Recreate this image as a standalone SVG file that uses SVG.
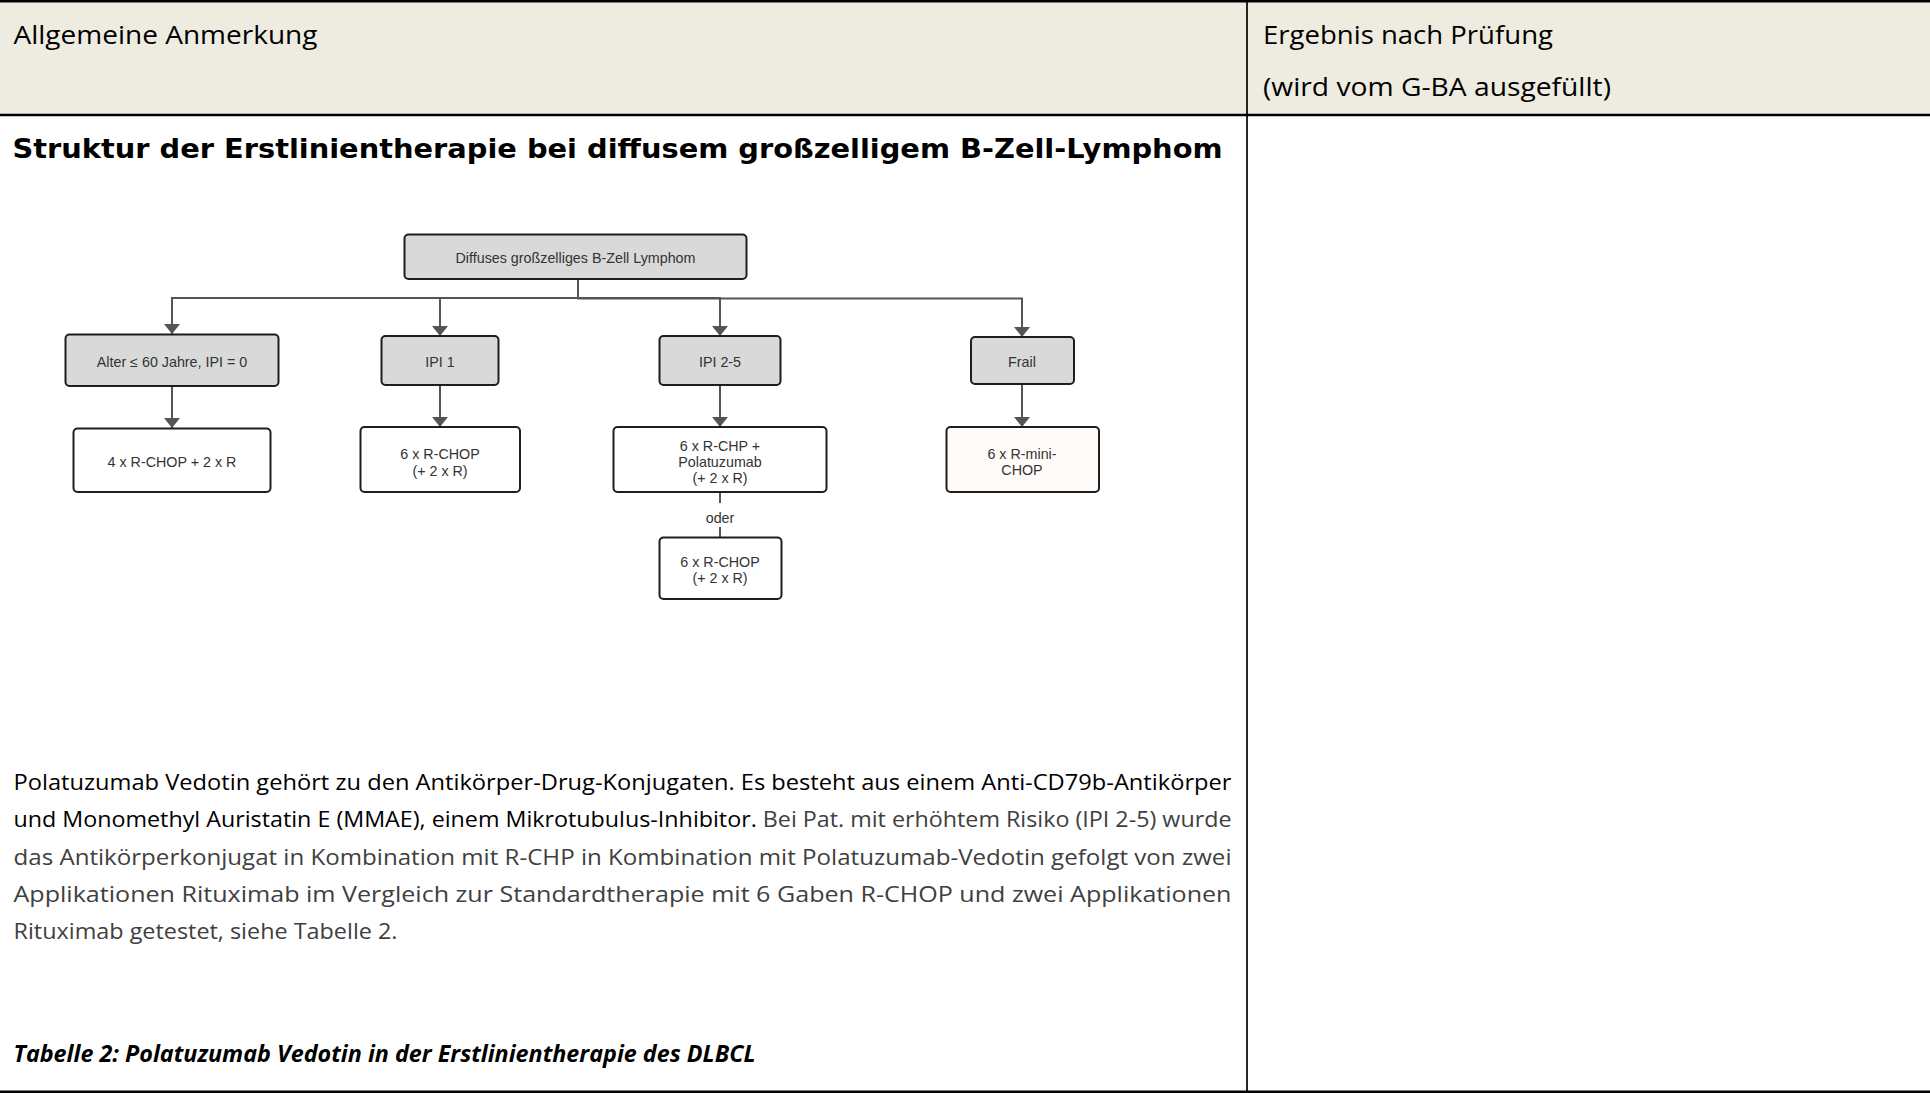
<svg xmlns="http://www.w3.org/2000/svg" width="1930" height="1093" viewBox="0 0 1930 1093">
<defs>
<marker id="arr" viewBox="0 0 10 16" refX="10" refY="8" markerWidth="10" markerHeight="16" markerUnits="userSpaceOnUse" orient="auto">
<path d="M0,0 L10,8 L0,16 Z" fill="#555555"/>
</marker>
<style>
.hdr{font-family:"Open Sans","Liberation Sans",sans-serif;font-size:26px;fill:#000}
.title{font-family:"DejaVu Sans",sans-serif;font-weight:bold;font-size:26px;fill:#000}
.body{font-family:"Open Sans","Liberation Sans",sans-serif;font-size:22.5px;fill:#404040}
.blk{fill:#000}
.cap{font-family:"Open Sans","Liberation Sans",sans-serif;font-size:22.5px;font-weight:bold;font-style:italic;fill:#000}
.box{stroke:#1e1e1e;stroke-width:2}
.g{fill:#d9d9d9}
.w{fill:#ffffff}
.p{fill:#fffbf9}
.bt{font-family:"Liberation Sans",Arial,sans-serif;font-size:14.3px;fill:#333333;text-anchor:middle}
.con{fill:none;stroke:#555555;stroke-width:2}
.frame{stroke:#000;fill:none}
</style>
</defs>
<rect x="0" y="0" width="1930" height="1093" fill="#ffffff"/>
<rect x="0" y="0" width="1930" height="115" fill="#eeece1"/>
<g id="table-frame">
<line class="frame" x1="0" y1="1.2" x2="1930" y2="1.2" stroke-width="2.5"/>
<line class="frame" x1="0" y1="115" x2="1930" y2="115" stroke-width="2.5"/>
<line class="frame" x1="0" y1="1091.8" x2="1930" y2="1091.8" stroke-width="2.5"/>
<line class="frame" x1="1247" y1="0" x2="1247" y2="1093" stroke-width="1.7"/>
</g>
<g id="header-texts">
<text class="hdr" x="13.5" y="44" textLength="304" lengthAdjust="spacingAndGlyphs">Allgemeine Anmerkung</text>
<text class="hdr" x="1263" y="44" textLength="290" lengthAdjust="spacingAndGlyphs">Ergebnis nach Prüfung</text>
<text class="hdr" x="1263" y="96" textLength="348" lengthAdjust="spacingAndGlyphs">(wird vom G-BA ausgefüllt)</text>
</g>
<text id="title" class="title" x="12.5" y="157.5" textLength="1210" lengthAdjust="spacingAndGlyphs">Struktur der Erstlinientherapie bei diffusem großzelligem B-Zell-Lymphom</text>
<g id="connectors">
<path class="con" d="M578,279 V298 H172 V334" marker-end="url(#arr)"/>
<path class="con" d="M578,279 V298 H440 V336" marker-end="url(#arr)"/>
<path class="con" d="M578,279 V298 H720 V336" marker-end="url(#arr)"/>
<path class="con" d="M578,279 V298.5 H1022 V337" marker-end="url(#arr)"/>
<path class="con" d="M172,386 V428" marker-end="url(#arr)"/>
<path class="con" d="M440,385 V427" marker-end="url(#arr)"/>
<path class="con" d="M720,385 V427" marker-end="url(#arr)"/>
<path class="con" d="M1022,384 V427" marker-end="url(#arr)"/>
<path class="con" d="M720,492 V503 M720,527 V537"/>
<text class="bt" x="720" y="522.5">oder</text>
</g>
<g id="n-root">
<rect class="box g" x="404.5" y="234.5" width="342" height="44.5" rx="4"/>
<text class="bt" x="575.5" y="263">Diffuses großzelliges B-Zell Lymphom</text>
</g>
<g id="n-alter">
<rect class="box g" x="65.5" y="334.5" width="213" height="51.5" rx="4"/>
<text class="bt" x="172" y="366.5">Alter ≤ 60 Jahre, IPI = 0</text>
</g>
<g id="n-ipi1">
<rect class="box g" x="381.5" y="336" width="117" height="49" rx="4"/>
<text class="bt" x="440" y="366.5">IPI 1</text>
</g>
<g id="n-ipi25">
<rect class="box g" x="659.5" y="336" width="121" height="49" rx="4"/>
<text class="bt" x="720" y="366.5">IPI 2-5</text>
</g>
<g id="n-frail">
<rect class="box g" x="971" y="337" width="103" height="47" rx="4"/>
<text class="bt" x="1022" y="366.5">Frail</text>
</g>
<g id="n-rchop42">
<rect class="box w" x="73.5" y="428.5" width="197" height="63.5" rx="4"/>
<text class="bt" x="172" y="467">4 x R-CHOP + 2 x R</text>
</g>
<g id="n-rchop6">
<rect class="box w" x="360.5" y="427" width="159.5" height="65" rx="4"/>
<text class="bt" x="440" y="459">6 x R-CHOP</text>
<text class="bt" x="440" y="475.5">(+ 2 x R)</text>
</g>
<g id="n-rchp-pola">
<rect class="box w" x="613.5" y="427" width="213" height="65" rx="4"/>
<text class="bt" x="720" y="451">6 x R-CHP +</text>
<text class="bt" x="720" y="467">Polatuzumab</text>
<text class="bt" x="720" y="483">(+ 2 x R)</text>
</g>
<g id="n-rminichop">
<rect class="box p" x="946.5" y="427" width="152.5" height="65" rx="4"/>
<text class="bt" x="1022" y="459">6 x R-mini-</text>
<text class="bt" x="1022" y="475">CHOP</text>
</g>
<g id="n-rchop6-alt">
<rect class="box w" x="659.5" y="537.5" width="122" height="61.5" rx="4"/>
<text class="bt" x="720" y="567">6 x R-CHOP</text>
<text class="bt" x="720" y="583">(+ 2 x R)</text>
</g>
<g id="paragraph">
<text class="body blk" x="13.5" y="790" textLength="1218" lengthAdjust="spacingAndGlyphs">Polatuzumab Vedotin gehört zu den Antikörper-Drug-Konjugaten. Es besteht aus einem Anti-CD79b-Antikörper</text>
<text class="body" x="13.5" y="827" textLength="1218" lengthAdjust="spacingAndGlyphs"><tspan class="blk">und Monomethyl Auristatin E (MMAE), einem Mikrotubulus-Inhibitor.</tspan> Bei Pat. mit erhöhtem Risiko (IPI 2-5) wurde</text>
<text class="body" x="13.5" y="865" textLength="1218" lengthAdjust="spacingAndGlyphs">das Antikörperkonjugat in Kombination mit R-CHP in Kombination mit Polatuzumab-Vedotin gefolgt von zwei</text>
<text class="body" x="13.5" y="902" textLength="1218" lengthAdjust="spacingAndGlyphs">Applikationen Rituximab im Vergleich zur Standardtherapie mit 6 Gaben R-CHOP und zwei Applikationen</text>
<text class="body" x="13.5" y="939" textLength="384" lengthAdjust="spacingAndGlyphs">Rituximab getestet, siehe Tabelle 2.</text>
</g>
<text id="caption" class="cap" x="13.5" y="1062" textLength="742" lengthAdjust="spacingAndGlyphs">Tabelle 2: Polatuzumab Vedotin in der Erstlinientherapie des DLBCL</text>
</svg>
